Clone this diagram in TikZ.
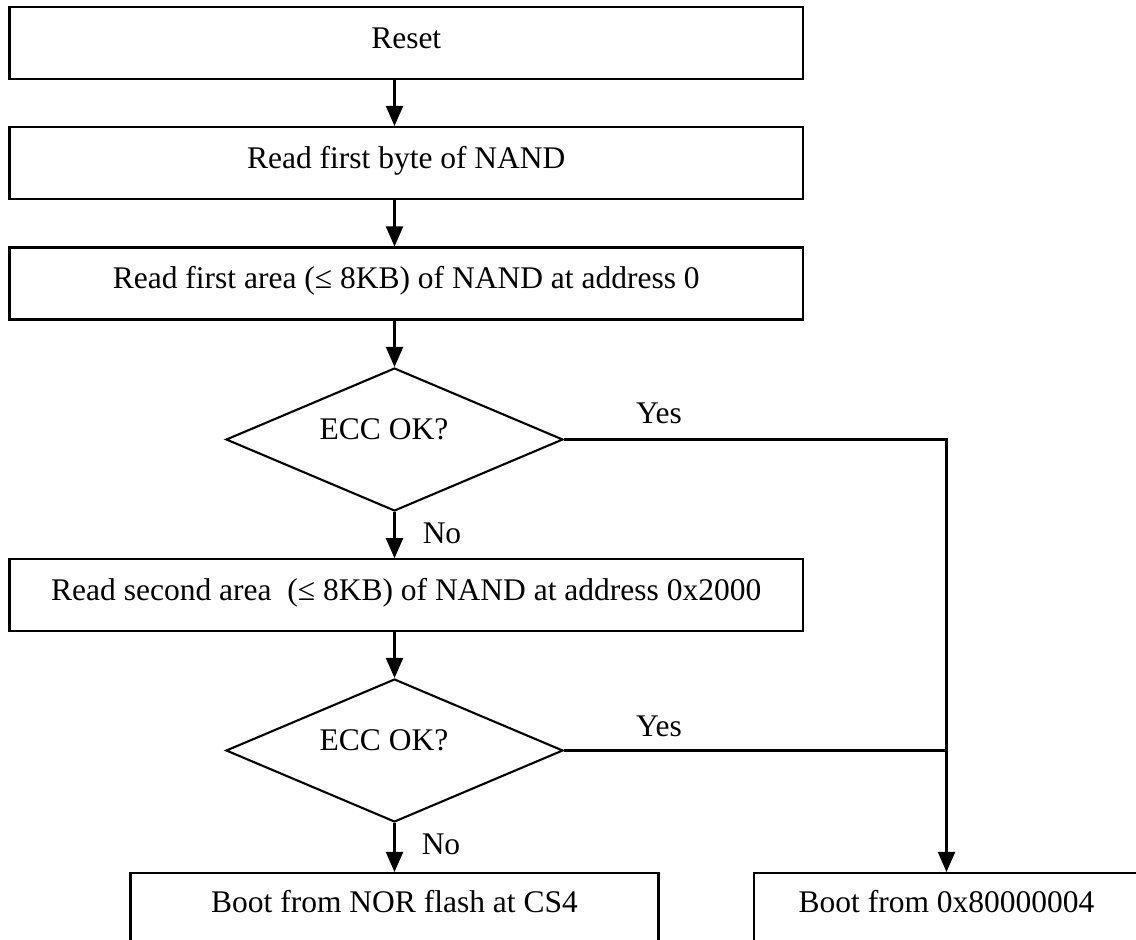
\documentclass[tikz,border=0pt]{standalone}
\usepackage{fontspec}
\setmainfont{Liberation Serif}
\usetikzlibrary{shapes.geometric,arrows.meta}
\begin{document}
\begin{tikzpicture}[x=1pt,y=1pt,
  every node/.style={font=\fontsize{31.5}{37}\selectfont},
  ln/.style={line width=2.1pt},
  procbox/.style={draw,line width=2.1pt,rectangle,inner sep=0pt,minimum width=793.5pt,minimum height=72pt,text height=20pt,text depth=10pt},
  endbox/.style={draw,line width=2.1pt,rectangle,inner sep=0pt,minimum height=100pt,text height=8pt,text depth=30pt},
  decision/.style={draw,line width=2.1pt,diamond,inner sep=0pt,minimum width=337pt,minimum height=143pt},
  lbl/.style={anchor=base,inner sep=0pt},
  arr/.style={line width=2.1pt,-{Triangle[width=17pt,length=20pt]}}]
\clip (0,0) rectangle (1136,-940);
\fill[white] (0,0) rectangle (1136,-940);
\node[procbox] (b1) at (406.25,-43) {Reset};
\node[procbox] (b2) at (406.25,-163) {Read first byte of NAND};
\node[procbox] (b3) at (406.25,-283.5) {Read first area (≤ 8KB) of NAND at address 0};
\node[decision] (d1) at (394.5,-439.5) {};
\node[lbl] (d1t) at (384,-439) {ECC OK?};
\node[procbox] (b4) at (406.25,-595.25) {Read second area\ \ (≤ 8KB) of NAND at address 0x2000};
\node[decision] (d2) at (394.5,-750.5) {};
\node[lbl] (d2t) at (384,-750) {ECC OK?};
\node[endbox,minimum width=528pt] (b5) at (394.5,-923) {Boot from NOR flash at CS4};
\node[endbox,minimum width=385pt] (b6) at (946.5,-923) {Boot from 0x80000004};
\node[lbl] (y1) at (659,-423) {Yes};
\node[lbl] (y2) at (659,-736) {Yes};
\node[lbl] (n1) at (442,-543) {No};
\node[lbl] (n2) at (441,-854) {No};
\draw[arr] (b1.south -| d1.center) -- (b2.north -| d1.center);
\draw[arr] (b2.south -| d1.center) -- (b3.north -| d1.center);
\draw[arr] (b3.south -| d1.center) -- (d1.north);
\draw[arr] (d1.south) -- (b4.north -| d1.center);
\draw[arr] (b4.south -| d1.center) -- (d2.north);
\draw[arr] (d2.south) -- (b5.north -| d2.south);
\draw[arr] (d1.east) -| (b6.north);
\draw[ln] (d2.east) -- (d2.east -| b6.north);
\end{tikzpicture}
\end{document}
